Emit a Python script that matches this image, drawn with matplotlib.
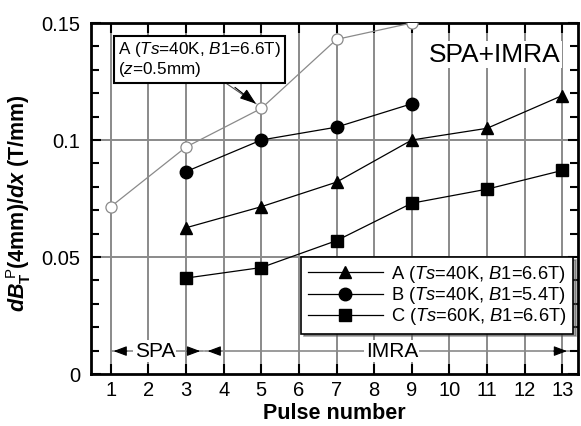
import matplotlib.pyplot as plt
from matplotlib.ticker import MultipleLocator, FixedLocator, FixedFormatter

plt.rcParams['font.family'] = ['Liberation Sans', 'DejaVu Sans']
plt.rcParams['mathtext.fontset'] = 'custom'
plt.rcParams['mathtext.rm'] = 'Liberation Sans'
plt.rcParams['mathtext.it'] = 'Liberation Sans:italic'
plt.rcParams['mathtext.bf'] = 'Liberation Sans:bold'
plt.rcParams['mathtext.bfit'] = 'Liberation Sans:italic:bold'

# data
pulse_a0 = [1, 3, 5, 7, 9]
dbdx_a0 = [0.0715, 0.097, 0.1135, 0.143, 0.150]   # A, z=0.5mm

pulse_a = [3, 5, 7, 9, 11, 13]
dbdx_a = [0.0625, 0.0715, 0.082, 0.100, 0.105, 0.119]

pulse_b = [3, 5, 7, 9]
dbdx_b = [0.0865, 0.100, 0.1055, 0.1155]

pulse_c = [3, 5, 7, 9, 11, 13]
dbdx_c = [0.041, 0.0455, 0.057, 0.073, 0.079, 0.087]

x_ticks = list(range(1, 14))
y_ticks = [0, 0.05, 0.1, 0.15]
y_labels = ["0", "0.05", "0.1", "0.15"]

label_a = "A ($\\it{Ts}$=40K, $\\it{B1}$=6.6T)"
label_b = "B ($\\it{Ts}$=40K, $\\it{B1}$=5.4T)"
label_c = "C ($\\it{Ts}$=60K, $\\it{B1}$=6.6T)"

fig = plt.figure(figsize=(5.81, 4.26), dpi=100)
ax = fig.add_axes([0.157, 0.122, 0.838, 0.824])

# grid
for x in x_ticks:
    ax.axvline(x, color='#8a8a8a', lw=1.4, zorder=0)
for y in [0.05, 0.1]:
    ax.axhline(y, color='#8a8a8a', lw=1.4, zorder=0)

# curves
ax.plot(pulse_a0, dbdx_a0, color='#8a8a8a', lw=0.9, marker='o', ms=8,
        mfc='white', mec='#8a8a8a', mew=0.9, zorder=3)
la, = ax.plot(pulse_a, dbdx_a, color='k', lw=0.9, marker='^', ms=9, zorder=3, label=label_a)
lb, = ax.plot(pulse_b, dbdx_b, color='k', lw=0.9, marker='o', ms=9, zorder=3, label=label_b)
lc, = ax.plot(pulse_c, dbdx_c, color='k', lw=0.9, marker='s', ms=8.5, zorder=3, label=label_c)

# SPA / IMRA ranges
y_arr = 0.0098
ax.plot([1, 3.45], [y_arr, y_arr], color='#8a8a8a', lw=1.2, zorder=1)
ax.plot([3.5, 13.2], [y_arr, y_arr], color='#8a8a8a', lw=1.2, zorder=1)
head = dict(arrowstyle='-|>,head_length=0.8,head_width=0.3', color='k', lw=0.8)
ax.annotate('', xy=(1, y_arr), xytext=(1.5, y_arr), arrowprops=head, zorder=4)
ax.annotate('', xy=(3.45, y_arr), xytext=(2.95, y_arr), arrowprops=head, zorder=4)
ax.annotate('', xy=(3.5, y_arr), xytext=(4.0, y_arr), arrowprops=head, zorder=4)
ax.annotate('', xy=(13.2, y_arr), xytext=(12.7, y_arr), arrowprops=head, zorder=4)
ax.text(2.17, y_arr, "SPA", ha='center', va='center', fontsize=15,
        bbox=dict(fc='white', ec='none', pad=1), zorder=2)
ax.text(8.47, y_arr, "IMRA", ha='center', va='center', fontsize=15,
        bbox=dict(fc='white', ec='none', pad=1), zorder=2)

# annotation for z=0.5mm curve
ax.annotate("A ($\\it{Ts}$=40K, $\\it{B1}$=6.6T)\n($\\it{z}$=0.5mm)",
            xy=(4.86, 0.1155), xytext=(1.2, 0.1345), fontsize=12.3,
            ha='left', va='center', linespacing=1.05,
            bbox=dict(boxstyle='square,pad=0.25', fc='white', ec='k', lw=1.5),
            arrowprops=dict(arrowstyle='-', color='#555555', lw=0.8,
                            shrinkA=0, shrinkB=0, relpos=(0.62, 0)),
            zorder=5)
ax.annotate('', xy=(4.86, 0.1155), xytext=(4.3, 0.1225),
            arrowprops=dict(arrowstyle='-|>,head_length=1.0,head_width=0.35',
                            color='k', lw=0.8, shrinkA=0, shrinkB=0), zorder=5)

ax.text(12.95, 0.1365, "SPA+IMRA", ha='right', va='center', fontsize=19,
        bbox=dict(fc='white', ec='none', pad=1), zorder=2)

# axes
ax.set_xlim(0.48, 13.42)
ax.set_ylim(0, 0.15)
ax.xaxis.set_major_locator(FixedLocator(x_ticks))
ax.yaxis.set_major_locator(FixedLocator(y_ticks))
ax.yaxis.set_major_formatter(FixedFormatter(y_labels))
ax.yaxis.set_minor_locator(MultipleLocator(0.01))
ax.tick_params(which='both', direction='in', top=True, right=True, labelsize=14.5, width=1.5)
ax.tick_params(which='major', length=7)
ax.tick_params(which='minor', length=6)
ax.tick_params(axis='x', pad=5)
ax.tick_params(axis='y', pad=8)
for s in ax.spines.values():
    s.set_linewidth(2)

ax.set_xlabel("Pulse number", fontsize=15.5, fontweight='bold', labelpad=2)
ax.set_ylabel("$\\mathbfit{dB}_{\\mathbf{T}}^{\\ \\mathrm{P}}$(4mm)/$\\mathbfit{dx}$ (T/mm)",
              fontsize=15.5, fontweight='bold')
ax.yaxis.set_label_coords(-0.119, 0.487)

leg = ax.legend(handles=[la, lb, lc], loc='upper right', bbox_to_anchor=(0.99, 0.333),
                fontsize=13.2, frameon=True, fancybox=False, shadow=True,
                edgecolor='k', handlelength=4.1, borderpad=0.35, labelspacing=0.02,
                handletextpad=0.45, borderaxespad=0)
leg.get_frame().set_linewidth(1.2)
leg.set_zorder(6)

fig.savefig('out.png', dpi=100)
